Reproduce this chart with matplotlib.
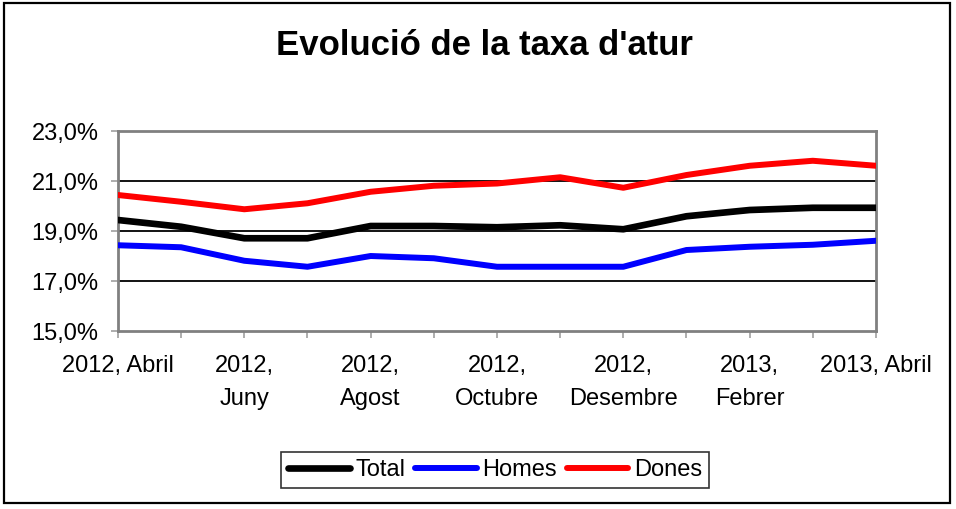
import matplotlib.pyplot as plt
from matplotlib.patches import Rectangle
from matplotlib.ticker import FuncFormatter

plt.rcParams['font.family'] = ['Liberation Sans', 'DejaVu Sans']

mesos = ['2012, Abril', '2012,\nJuny', '2012,\nAgost', '2012,\nOctubre',
         '2012,\nDesembre', '2013,\nFebrer', '2013, Abril']
n_punts = 13

total = [19.44, 19.17, 18.71, 18.71, 19.20, 19.20, 19.15, 19.23, 19.07, 19.59, 19.84, 19.93, 19.93]
homes = [18.43, 18.35, 17.81, 17.57, 18.00, 17.91, 17.57, 17.57, 17.57, 18.24, 18.37, 18.45, 18.61]
dones = [20.44, 20.17, 19.87, 20.11, 20.57, 20.81, 20.90, 21.15, 20.73, 21.24, 21.61, 21.81, 21.61]

fig = plt.figure(figsize=(9.56, 5.09), dpi=100)
fig.patches.append(Rectangle((0.004, 0.012), 0.99, 0.982, transform=fig.transFigure,
                             fill=False, edgecolor='black', lw=1.6))

ax = fig.add_axes([0.1234, 0.3497, 0.7929, 0.3929])
x = list(range(n_punts))
ax.plot(x, total, color='black', lw=4.8, solid_capstyle='round', label='Total', zorder=3)
ax.plot(x, homes, color='#0000ff', lw=4.3, solid_capstyle='round', label='Homes', zorder=3)
ax.plot(x, dones, color='#ff0000', lw=4.3, solid_capstyle='round', label='Dones', zorder=3)

ax.set_xlim(0, n_punts - 1)
ax.set_ylim(15, 23)
ax.set_yticks([15, 17, 19, 21, 23])
ax.yaxis.set_major_formatter(FuncFormatter(lambda v, p: f'{v:.1f}%'.replace('.', ',')))
for yv in [17, 19, 21]:
    ax.axhline(yv, color='black', lw=1.3, zorder=1)

ax.set_xticks(x)
etiq = []
for i in x:
    etiq.append(mesos[i // 2] if i % 2 == 0 else '')
ax.set_xticklabels(etiq, linespacing=1.65, va='top')
ax.tick_params(axis='both', direction='out', length=5, color='#a0a0a0', width=1.2,
               labelsize=17, pad=12)
ax.tick_params(axis='y', pad=9)
for s in ax.spines.values():
    s.set_color('#808080')
    s.set_linewidth(2)

fig.text(0.507, 0.911, "Evolució de la taxa d'atur", ha='center', va='center',
         fontsize=25, fontweight='bold')

leg = fig.legend(loc='center', bbox_to_anchor=(0.518, 0.0766), ncol=3, fontsize=17,
                 frameon=True, fancybox=False, edgecolor='black', handlelength=2.6,
                 handletextpad=0.25, columnspacing=0.4, borderpad=0.3)
leg.get_frame().set_linewidth(1.2)

fig.savefig('out.png', dpi=100)
